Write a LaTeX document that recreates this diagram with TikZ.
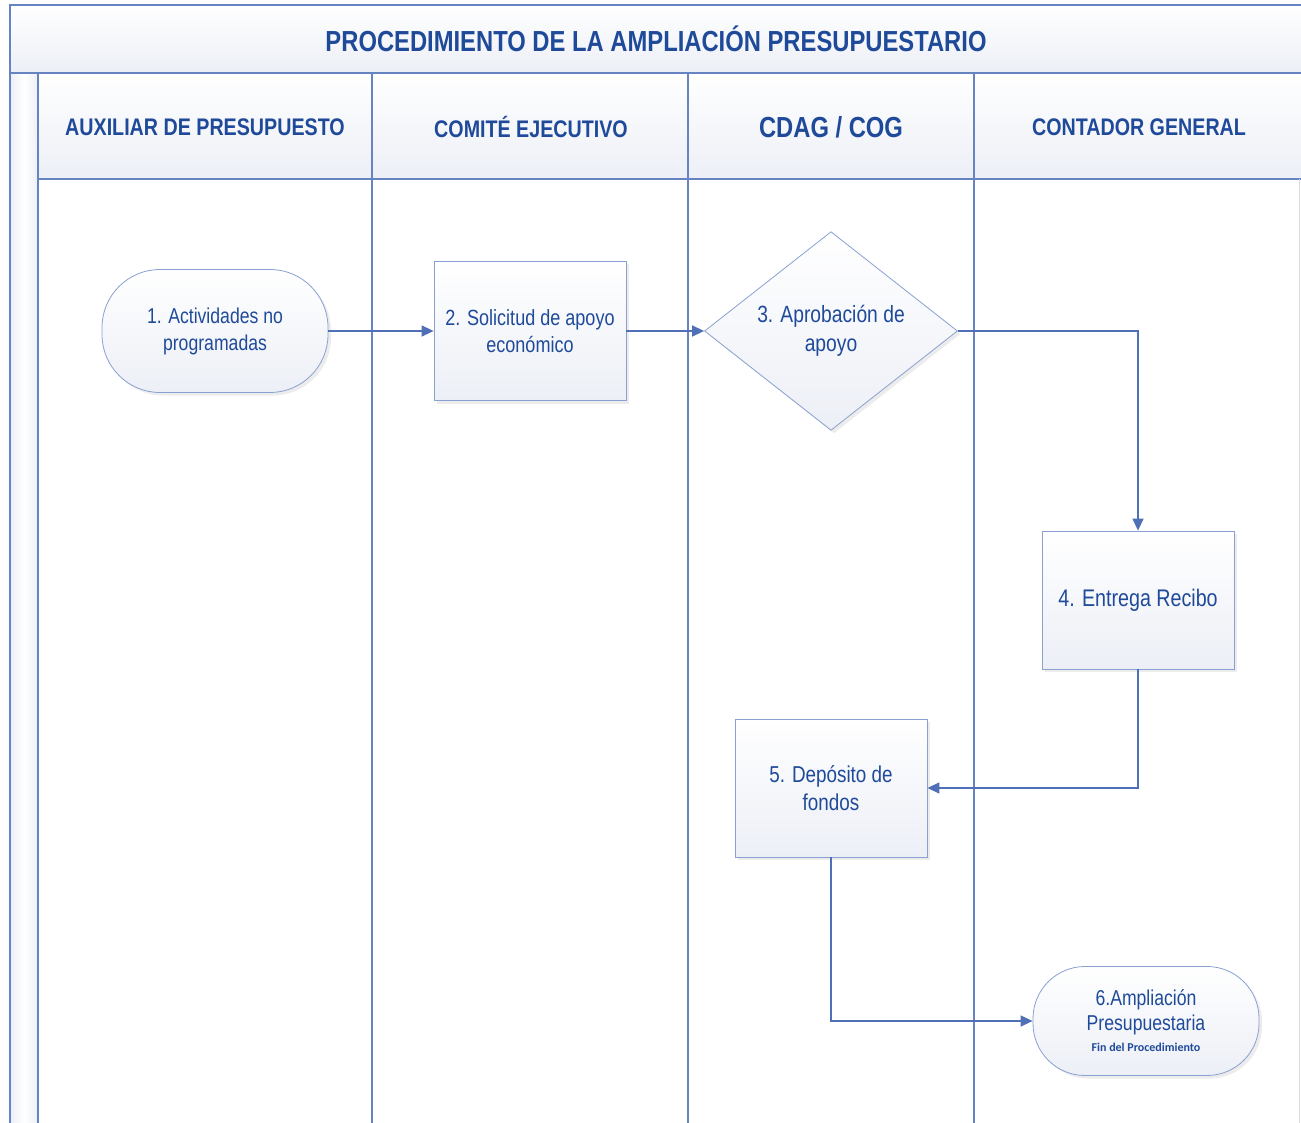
\documentclass[tikz,border=0pt]{standalone}
\usepackage{fontspec}
\setmainfont{Liberation Sans}[FakeStretch=0.82]
\newfontfamily\titlefont{Liberation Sans}[FakeStretch=0.82]
\newfontfamily\smallfont{Carlito}
\usetikzlibrary{shapes.geometric,shadows,arrows.meta}
\definecolor{lanec}{HTML}{6683C2}
\definecolor{nodec}{HTML}{8AA0D2}
\definecolor{arrc}{HTML}{4F6FB6}
\definecolor{txtc}{HTML}{1F4A9A}
\definecolor{fillb}{HTML}{ECEFF6}
\tikzset{
  lanel/.style={draw=lanec, line width=1.2pt},
  base/.style={draw=nodec, line width=0.8pt, top color=white, bottom color=fillb,
     text=txtc, align=center, font=\fontsize{21.5}{27}\selectfont,
     drop shadow={shadow xshift=3pt, shadow yshift=-3pt, fill=black!12, opacity=0.6}},
  stad/.style={base, rectangle, rounded corners=58pt, minimum width=226pt},
  procbox/.style={base, rectangle, minimum width=192pt, minimum height=139pt},
  decis/.style={base, diamond, inner sep=0pt, minimum width=253pt, minimum height=196pt},
  arr/.style={draw=arrc, line width=1.4pt, -{Triangle[length=12pt,width=11pt]}},
  hdr/.style={text=txtc, font=\fontsize{24}{26}\selectfont\bfseries},
}
\begin{document}
\begin{tikzpicture}[x=1pt,y=-1pt]
\useasboundingbox (0,0) rectangle (1301,1123);
\begin{scope}
\clip (0,0) rectangle (1301,1123);
\shade[top color=white, bottom color=fillb] (10,5) rectangle (1330,73);
\shade[top color=white, bottom color=fillb] (38,73) rectangle (1330,179);
\shade[left color=fillb, right color=fillb, middle color=white] (10,73) rectangle (38,1140);
\draw[lanel] (1330,5) -- (10,5) -- (10,1140);
\draw[lanel] (10,73) -- (1330,73);
\draw[lanel] (38,179) -- (1330,179);
\draw[lanel] (38,73) -- (38,1140);
\draw[lanel] (372,73) -- (372,1140);
\draw[lanel] (688,73) -- (688,1140);
\draw[lanel] (974,73) -- (974,1140);
\draw[black!15, line width=1pt] (1299,179) -- (1299,1140);
\end{scope}

\node[text=txtc, font=\titlefont\fontsize{29}{31}\selectfont\bfseries] (title) at (656,39) {PROCEDIMIENTO DE LA AMPLIACIÓN PRESUPUESTARIO};
\node[hdr] (h1) at (205,127) {AUXILIAR DE PRESUPUESTO};
\node[hdr] (h2) at (531,127) {COMITÉ EJECUTIVO};
\node[hdr, font=\fontsize{29}{31}\selectfont\bfseries] (h3) at (831,127) {CDAG / COG};
\node[hdr] (h4) at (1139,127) {CONTADOR GENERAL};

\node[stad, minimum height=123pt] (n1) at (215,331) {1. Actividades no\\programadas};
\node[procbox, font=\fontsize{22}{27}\selectfont] (n2) at (530,331) {2. Solicitud de apoyo\\económico};
\node[decis, font=\fontsize{23.5}{29}\selectfont] (n3) at (831,331) {3. Aprobación de\\apoyo};
\node[procbox, minimum height=138pt, font=\fontsize{24}{28}\selectfont] (n4) at (1138,600) {4. Entrega Recibo};
\node[procbox, minimum height=138pt, font=\fontsize{23}{28}\selectfont] (n5) at (831,788) {5. Depósito de\\fondos};
\node[stad, minimum height=109pt, rounded corners=52pt, font=\fontsize{21.5}{25}\selectfont] (n6) at (1146,1021) {6.Ampliación\\Presupuestaria\\[-4pt]{\smallfont\bfseries\fontsize{12}{13}\selectfont Fin del Procedimiento}};

\draw[arr] (n1.east) -- (n2.west);
\draw[arr] (n2.east) -- (n3.west);
\draw[arr] (n3.east) -| (n4.north);
\draw[arr] (n4.south) |- (n5.east);
\draw[arr] (n5.south) |- (n6.west);
\end{tikzpicture}
\end{document}
